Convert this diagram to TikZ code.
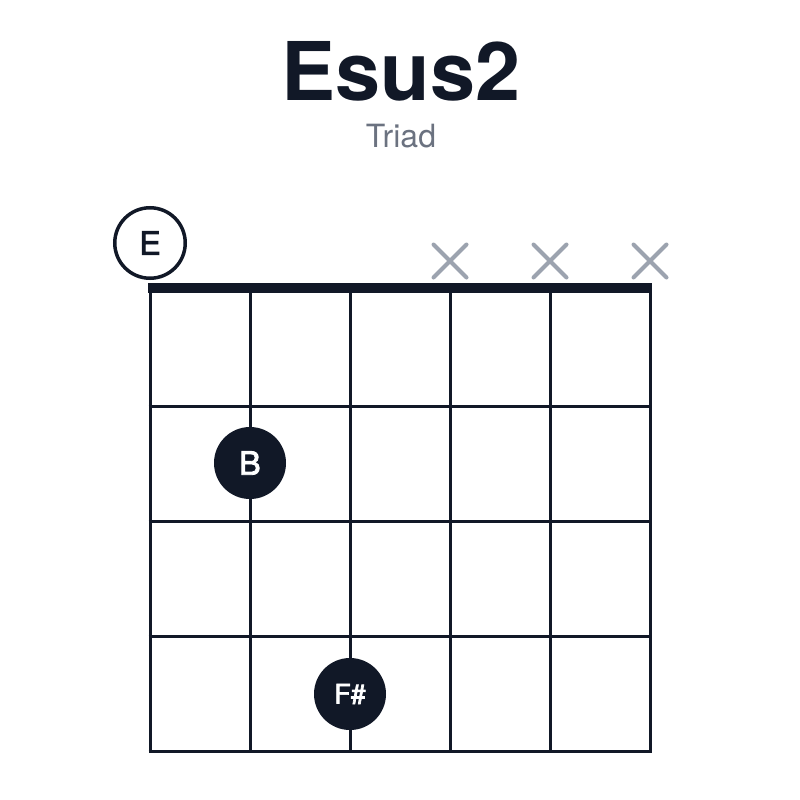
\documentclass[tikz,border=0pt]{standalone}
\usepackage{fontspec}
\setmainfont{TeX Gyre Heros}
\newfontfamily\medfont[FakeBold=2.6]{TeX Gyre Heros}
\usetikzlibrary{calc}
\definecolor{ink}{HTML}{111827}
\definecolor{xgray}{HTML}{9CA3AF}
\definecolor{subgray}{HTML}{6B7280}
\tikzset{
  gridline/.style={draw=ink, line width=3pt},
  nutbar/.style={fill=ink, draw=none},
  fingerdot/.style={circle, fill=ink, draw=none, minimum size=72pt, inner sep=0pt, text=white},
  opendot/.style={circle, draw=ink, line width=3.5pt, fill=white, minimum size=70.5pt, inner sep=0pt, text=ink},
  mutemark/.style={draw=xgray, line width=4pt, line cap=round},
}
\begin{document}
\begin{tikzpicture}[x=1pt, y=-1pt]
\useasboundingbox (0,0) rectangle (800,800);
\fill[white] (0,0) rectangle (800,800);
% title
\node[anchor=base, text=ink, font=\fontsize{81}{90}\selectfont\bfseries, inner sep=0pt] (title) at (401,100) {Esus2};
\node[anchor=base, text=subgray, font=\fontsize{32}{38}\selectfont, inner sep=0pt] (subtitle) at (401,147) {Triad};
% strings
\foreach \x in {150,250,350,450,550,650} {
  \draw[gridline] (\x,288) -- (\x,752.5);
}
% frets
\foreach \y in {406,521,636,751} {
  \draw[gridline] (148.5,\y) -- (651.5,\y);
}
% nut
\fill[nutbar] (148,282.5) rectangle (652,293);
% open string
\node[opendot, font=\fontsize{32}{36}\medfont] (open1) at (150,243) {E};
% muted strings
\foreach \x/\n in {450/m4,550/m5,650/m6} {
  \coordinate (\n) at (\x,261);
  \draw[mutemark] ($(\n)+(-16.5,-16.5)$) -- ($(\n)+(16.5,16.5)$);
  \draw[mutemark] ($(\n)+(-16.5,16.5)$) -- ($(\n)+(16.5,-16.5)$);
}
% fingers
\node[fingerdot, font=\fontsize{32}{36}\medfont] (fB) at (250,463) {B};
\node[fingerdot, font=\fontsize{27}{30}\medfont] (fFs) at (350,694) {F\#};
\end{tikzpicture}
\end{document}
